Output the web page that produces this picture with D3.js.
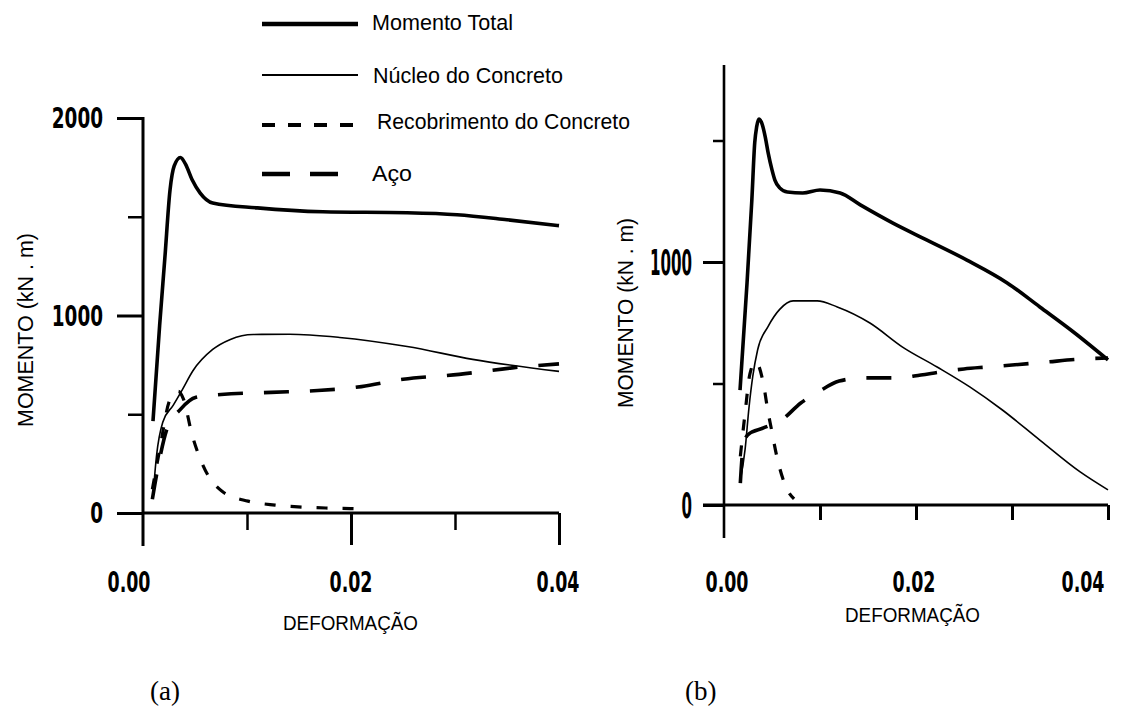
<!DOCTYPE html>
<html>
<head>
<meta charset="utf-8">
<script src="https://cdn.jsdelivr.net/npm/d3@7"></script>
<style>
  html, body { margin: 0; padding: 0; background: #fff; }
  svg { display: block; }
</style>
</head>
<body>
<svg id="chart" width="1136" height="713"></svg>
<script>
// ---------------- DATA ----------------
const seriesNames = ["Momento Total", "Núcleo do Concreto", "Recobrimento do Concreto", "Aço"];
const xTickLabels = ["0.00", "0.02", "0.04"];
const xTickValues = [0, 0.02, 0.04];
const yTickValuesA = [0, 1000, 2000];
const yTickValuesB = [0, 1000];
const yMinorA = [500, 1500];
const yMinorB = [500, 1500];

// (a) deformação, momento (kN.m)
const totalA = [[0.00096,465],[0.0016,950],[0.0021,1290],[0.0026,1636],[0.003,1757],[0.0036,1800],[0.0041,1765],[0.0047,1690],[0.0055,1620],[0.0067,1570],[0.011,1545],[0.0173,1525],[0.0254,1520],[0.0302,1510],[0.035,1485],[0.04,1455]];
const nucleoA = [[0.00096,86],[0.0013,290],[0.0019,460],[0.0029,545],[0.0038,626],[0.0048,720],[0.0067,828],[0.0084,879],[0.0106,904],[0.0141,905],[0.0189,889],[0.0254,843],[0.0317,778],[0.04,717]];
const recobA = [[0.0009,120],[0.0016,320],[0.0026,575],[0.0034,616],[0.0039,575],[0.0047,400],[0.0058,237],[0.0076,110],[0.0101,60],[0.0127,40],[0.0153,30],[0.0178,25],[0.0206,22]];
const acoA = [[0.0009,70],[0.0014,220],[0.0023,425],[0.0036,525],[0.0051,586],[0.0075,600],[0.0123,611],[0.0168,620],[0.021,640],[0.025,677],[0.0304,702],[0.0355,735],[0.04,755]];

// (b)
const totalB = [[0.00167,473],[0.0024,914],[0.0029,1255],[0.0032,1490],[0.0034,1556],[0.00365,1588],[0.004,1564],[0.0043,1514],[0.0046,1449],[0.005,1379],[0.0053,1337],[0.0058,1305],[0.0066,1288],[0.0082,1284],[0.01,1296],[0.0121,1284],[0.0142,1235],[0.0176,1160],[0.0211,1091],[0.0253,1008],[0.0295,914],[0.0329,815],[0.0364,712],[0.04,597]];
const nucleoB = [[0.00167,95],[0.0022,230],[0.0026,400],[0.003,530],[0.0035,638],[0.0046,735],[0.0058,805],[0.0072,840],[0.0097,840],[0.0118,815],[0.0152,749],[0.0186,650],[0.0222,568],[0.0256,486],[0.029,391],[0.0329,267],[0.0371,136],[0.04,62]];
const recobB = [[0.0017,200],[0.0022,380],[0.0027,540],[0.0033,590],[0.0041,500],[0.0046,380],[0.0049,320],[0.0055,200],[0.0065,70],[0.0073,25]];
const acoB = [[0.0017,90],[0.002,240],[0.0025,290],[0.0041,317],[0.006,350],[0.008,420],[0.0098,465],[0.012,510],[0.0145,523],[0.018,523],[0.0205,535],[0.0225,547],[0.025,560],[0.0275,568],[0.03,576],[0.0335,588],[0.037,600],[0.04,605]];

// ---------------- STYLES ----------------
const styles = [
  {w: 3.6, dash: null},
  {w: 1.6, dash: null},
  {w: 3.2, dash: "11,15"},
  {w: 3.6, dash: "25,21"}
];

const svg = d3.select("#chart");
const tickFont = "'Liberation Sans Narrow','DejaVu Sans Condensed','Arial Narrow',sans-serif";
const labelFont = "'Liberation Sans','Arial',sans-serif";

function panel(cfg) {
  const g = svg.append("g");
  const x = d3.scaleLinear().domain([0, 0.04]).range(cfg.xr);
  const y = d3.scaleLinear().domain(cfg.yd).range(cfg.yr);

  g.append("g").attr("transform", `translate(${cfg.xr[0]},0)`)
    .call(d3.axisLeft(y).tickValues(cfg.yMajor).tickSize(cfg.yMajorLen).tickSizeOuter(0).tickFormat(""))
    .call(s => s.select(".domain").remove())
    .call(s => s.selectAll("line").attr("stroke", "#000").attr("stroke-width", 3));
  g.append("g").attr("transform", `translate(${cfg.xr[0]},0)`)
    .call(d3.axisLeft(y).tickValues(cfg.yMinor).tickSize(cfg.yMinorLen).tickSizeOuter(0).tickFormat(""))
    .call(s => s.select(".domain").remove())
    .call(s => s.selectAll("line").attr("stroke", "#000").attr("stroke-width", 2.5));

  g.append("g").attr("transform", `translate(0,${y(0)})`)
    .call(d3.axisBottom(x).tickValues(cfg.xMajor).tickSize(cfg.xMajorLen).tickSizeOuter(0).tickFormat(""))
    .call(s => s.select(".domain").remove())
    .call(s => s.selectAll("line").attr("stroke", "#000").attr("stroke-width", 3));
  if (cfg.xMinor.length) {
    g.append("g").attr("transform", `translate(0,${y(0)})`)
      .call(d3.axisBottom(x).tickValues(cfg.xMinor).tickSize(cfg.xMinorLen).tickSizeOuter(0).tickFormat(""))
      .call(s => s.select(".domain").remove())
      .call(s => s.selectAll("line").attr("stroke", "#000").attr("stroke-width", 2.5));
  }

  g.append("line").attr("x1", cfg.xr[0]).attr("x2", cfg.xr[0])
    .attr("y1", cfg.yTop).attr("y2", cfg.yBottom).attr("stroke", "#000").attr("stroke-width", cfg.yAxisW);
  g.append("line").attr("x1", cfg.xLeft).attr("x2", cfg.xr[1])
    .attr("y1", y(0)).attr("y2", y(0)).attr("stroke", "#000").attr("stroke-width", 3);

  cfg.yMajor.forEach((v) => {
    g.append("text").attr("x", cfg.yLabelRight).attr("y", y(v) + cfg.yLabelSize * 0.36)
      .attr("text-anchor", "end").attr("font-family", tickFont).attr("font-weight", "bold")
      .attr("font-size", cfg.yLabelSize)
      .attr("textLength", String(v).length * cfg.yDigitW).attr("lengthAdjust", "spacingAndGlyphs")
      .text(String(v));
  });
  xTickValues.forEach((v, i) => {
    g.append("text").attr("x", x(v) + cfg.xLabelDx[i] - 21.5).attr("y", cfg.xLabelBase)
      .attr("font-family", tickFont).attr("font-weight", "bold").attr("font-size", 29)
      .attr("textLength", 43).attr("lengthAdjust", "spacingAndGlyphs")
      .text(xTickLabels[i]);
  });

  g.append("text").attr("x", cfg.xTitle[0]).attr("y", cfg.xTitle[1])
    .attr("text-anchor", "start").attr("font-family", labelFont).attr("font-size", 21)
    .attr("textLength", 135).attr("lengthAdjust", "spacingAndGlyphs")
    .text("DEFORMAÇÃO");
  g.append("text").attr("transform", `translate(${cfg.yTitle[0]},${cfg.yTitle[1]}) rotate(-90)`)
    .attr("text-anchor", "start").attr("font-family", labelFont).attr("font-size", 22)
    .attr("textLength", cfg.yTitleLen).attr("lengthAdjust", "spacingAndGlyphs")
    .text("MOMENTO (kN . m)");

  const line = d3.line().x(d => x(d[0])).y(d => y(d[1])).curve(d3.curveMonotoneX);
  cfg.series.forEach((data, i) => {
    g.append("path").datum(data).attr("d", line)
      .attr("fill", "none").attr("stroke", "#000")
      .attr("stroke-width", styles[i].w)
      .attr("stroke-dasharray", styles[i].dash)
      .attr("stroke-linejoin", "round");
  });

  g.append("text").attr("x", cfg.panelLabel[0]).attr("y", cfg.panelLabel[1])
    .attr("font-family", "'Liberation Serif','Times New Roman',serif").attr("font-size", 27)
    .text(cfg.panelText);
}

panel({
  xr: [143, 559], yd: [0, 2000], yr: [513, 118],
  yMajor: yTickValuesA, yMinor: yMinorA, yMajorLen: 26, yMinorLen: 15,
  xMajor: [0.02, 0.04], xMinor: [0.01, 0.03], xMajorLen: 32, xMinorLen: 17,
  yTop: 117, yBottom: 546, xLeft: 143, yAxisW: 3,
  yLabelRight: 103, yLabelSize: 29, yDigitW: 12.8,
  xLabelDx: [-14, 0, -1], xLabelBase: 592,
  xTitle: [283, 630], yTitle: [33, 427], yTitleLen: 194,
  series: [totalA, nucleoA, recobA, acoA],
  panelLabel: [150, 700], panelText: "(a)"
});

panel({
  xr: [724, 1108], yd: [0, 1000], yr: [505, 262],
  yMajor: yTickValuesB, yMinor: yMinorB, yMajorLen: 21, yMinorLen: 11,
  xMajor: [0.01, 0.02, 0.03, 0.04], xMinor: [], xMajorLen: 15, xMinorLen: 0,
  yTop: 65, yBottom: 538, xLeft: 703, yAxisW: 2.6,
  yLabelRight: 692, yLabelSize: 35, yDigitW: 10.5,
  xLabelDx: [3, -2, -25], xLabelBase: 592,
  xTitle: [845, 622], yTitle: [633, 408], yTitleLen: 190,
  series: [totalB, nucleoB, recobB, acoB],
  panelLabel: [685, 700], panelText: "(b)"
});

// ---------------- LEGEND ----------------
const legendRows = [
  {y: 24, tx: 372, tb: 30, tl: 141},
  {y: 75, tx: 373, tb: 83, tl: 190},
  {y: 125, tx: 377, tb: 129, tl: 253},
  {y: 174, tx: 372, tb: 181, tl: 40}
];
const legendW = [4.5, 2, 4, 4.5];
const legendDash = [null, null, "13,13", "28,20"];
const lg = svg.append("g");
seriesNames.forEach((name, i) => {
  const r = legendRows[i];
  lg.append("line").attr("x1", 262).attr("x2", 358).attr("y1", r.y).attr("y2", r.y)
    .attr("stroke", "#000").attr("stroke-width", legendW[i]).attr("stroke-dasharray", legendDash[i]);
  lg.append("text").attr("x", r.tx).attr("y", r.tb)
    .attr("font-family", labelFont).attr("font-size", 22)
    .attr("textLength", r.tl).attr("lengthAdjust", "spacingAndGlyphs")
    .text(name);
});
</script>
</body>
</html>
